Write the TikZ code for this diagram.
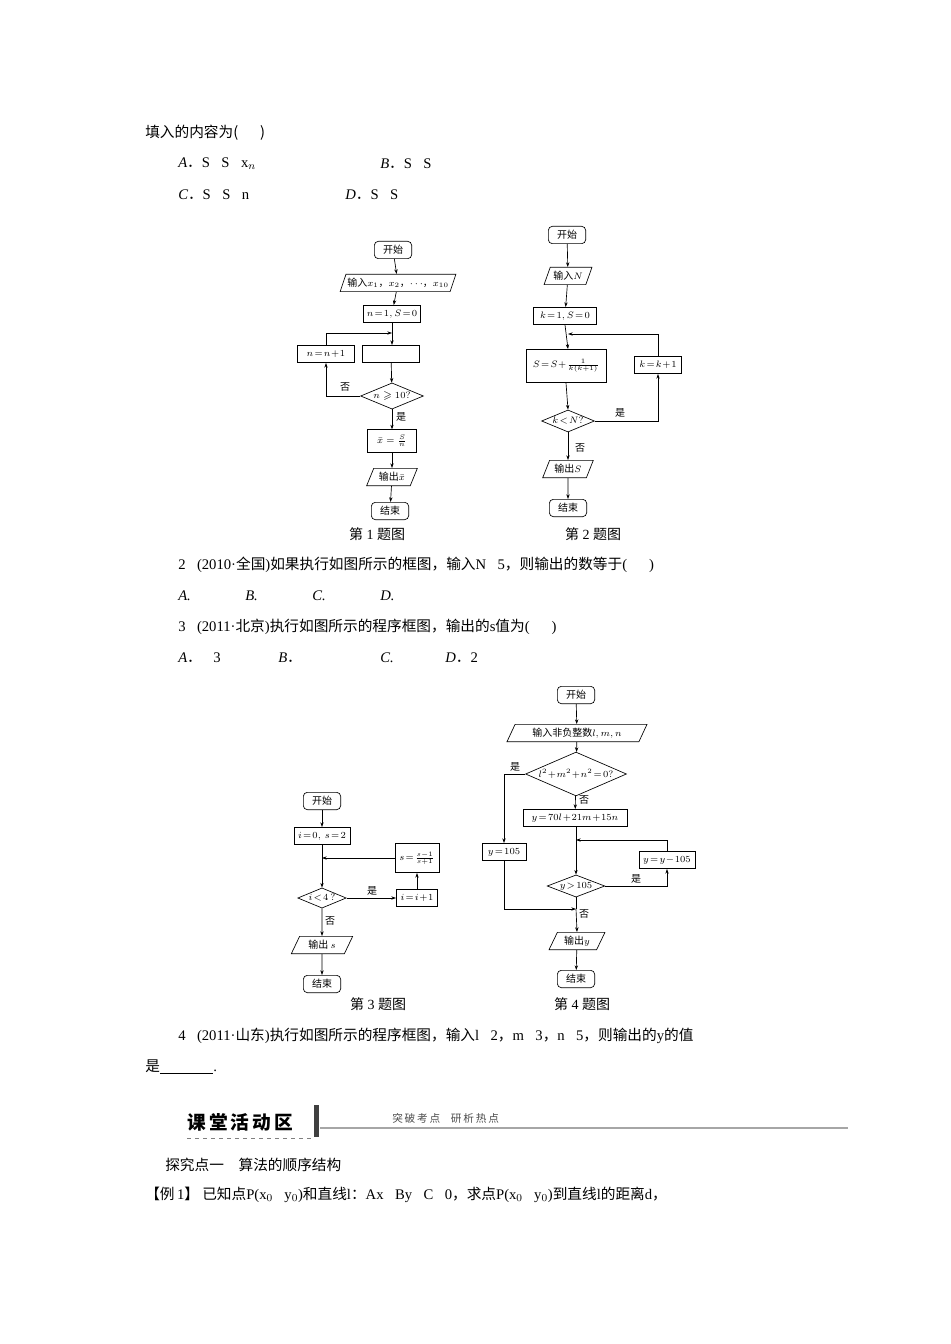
\documentclass[tikz,border=0pt]{standalone}
\usepackage{amssymb}
\usepackage{fontspec}
\setmainfont{Noto Sans CJK SC}
\newfontfamily\lt{Liberation Serif}
\usetikzlibrary{shapes.geometric,arrows.meta}
\tikzset{
 txt/.style={anchor=west,inner sep=0pt,font=\fontsize{11}{13}\selectfont},
 sm/.style={font=\fontsize{7.5}{9}\selectfont},
 term/.style={draw,rounded corners=3pt,minimum width=#1,minimum height=13pt,inner sep=1pt,sm,line width=0.5pt},
 term/.default=28pt,
 proc/.style={draw,minimum width=#1,minimum height=13pt,inner sep=1pt,sm,line width=0.5pt},
 io/.style={draw,trapezium,trapezium left angle=65,trapezium right angle=115,minimum width=#1,minimum height=13pt,inner sep=1pt,sm,line width=0.5pt,trapezium stretches=true},
 dec/.style={draw,diamond,aspect=2.4,inner sep=0.5pt,sm,line width=0.5pt},
 arr/.style={-{Stealth[length=3.5pt,width=2.5pt]},line width=0.5pt},
 ln/.style={line width=0.5pt},
 lab/.style={sm,inner sep=1pt},
 captxt/.style={font=\fontsize{10.5}{12}\selectfont}
}
\begin{document}
\begin{tikzpicture}[x=0.75pt,y=-0.75pt]
\useasboundingbox (0,0) rectangle (950,1344);
\fill[white] (0,0) rectangle (950,1344);
% top text
\node[txt] (t1) at (145,133) {填入的内容为({\lt\ \ \ \ \ \ })};
\node[txt] (t2) at (178,164) {{\lt\itshape A}．{\lt S＝S＋x$_n$}};
\node[txt] (t3) at (380,164) {{\lt\itshape B}．{\lt S＝S＋}};
\node[txt] (t4) at (178,195) {{\lt\itshape C}．{\lt S＝S＋n}};
\node[txt] (t5) at (345,195) {{\lt\itshape D}．{\lt S＝S＋}};
% chart 1
\node[term] (a1) at (393,250) {开始};
\node[io=80pt] (a2) at (398,283) {输入$x_1$，$x_2$，$\cdots$，$x_{10}$};
\node[proc=43pt] (a3) at (392,314) {$n\!=\!1,S\!=\!0$};
\node[proc=43pt] (a4) at (391,354) {};
\node[proc=43pt] (a5) at (326,354) {$n\!=\!n\!+\!1$};
\node[dec] (a6) at (392,396) {$n\geqslant10?$};
\node[proc=37pt,minimum height=17pt] (a7) at (392,441) {$\bar x=\frac{S}{n}$};
\node[io=38pt] (a8) at (392,477) {输出$\bar x$};
\node[term] (a9) at (390,511) {结束};
\coordinate (a10) at (392,333);
\draw[arr] (a1)--(a2); \draw[arr] (a2)--(a3); \draw[arr] (a3.south)--(a10|-a4.north);
\draw[arr] (a4)--(a6); \draw[arr] (a6)--(a7); \draw[arr] (a7)--(a8); \draw[arr] (a8)--(a9);
\draw[arr] (a6.west)-|(a5.south);
\draw[arr] (a5.north)|-(a10);
\node[lab] at (345,387) {否};
\node[lab] at (401,417) {是};
\node[captxt] at (377,534) {第{\lt\ 1 }题图};
% chart 2
\node[term] (b1) at (567,235) {开始};
\node[io=36pt] (b2) at (568,276) {输入$N$};
\node[proc=47pt] (b3) at (565,316) {$k\!=\!1,S\!=\!0$};
\node[proc=60pt,minimum height=25pt] (b4) at (566,366) {$S\!=\!S\!+\!\frac{1}{k(k+1)}$};
\node[proc=35pt] (b5) at (658,365) {$k\!=\!k\!+\!1$};
\node[dec] (b6) at (568,421) {$k\!<\!N?$};
\node[io=38pt] (b7) at (568,469) {输出$S$};
\node[term] (b8) at (568,508) {结束};
\coordinate (b9) at (568,334);
\draw[arr] (b1)--(b2); \draw[arr] (b2)--(b3); \draw[arr] (b3.south)--(b9|-b4.north);
\draw[arr] (b4.south)--(b6|-b6.north); \draw[arr] (b6)--(b7); \draw[arr] (b7)--(b8);
\draw[arr] (b6.east)-|(b5.south);
\draw[arr] (b5.north)|-(b9);
\node[lab] at (620,413) {是};
\node[lab] at (580,448) {否};
\node[captxt] at (593,534) {第{\lt\ 2 }题图};
% text 2-3
\node[txt] (t6) at (178,565) {{\lt 2．(2010·}全国{\lt)}如果执行如图所示的框图，输入{\lt N＝5}，则输出的数等于{\lt(\ \ \ \ \ \ )}};
\node[txt] (t7) at (178,596) {\lt\itshape A.};
\node[txt] (t8) at (245,596) {\lt\itshape B.};
\node[txt] (t9) at (312,596) {\lt\itshape C.};
\node[txt] (t10) at (380,596) {\lt\itshape D.};
\node[txt] (t11) at (178,627) {{\lt 3．(2011·}北京{\lt)}执行如图所示的程序框图，输出的{\lt s}值为{\lt(\ \ \ \ \ \ )}};
\node[txt] (t12) at (178,658) {{\lt\itshape A}．{\lt－3}};
\node[txt] (t13) at (278,658) {{\lt\itshape B}．{\lt－}};
\node[txt] (t14) at (380,658) {\lt\itshape C.};
\node[txt] (t15) at (445,658) {{\lt\itshape D}．{\lt 2}};
% chart 3
\node[term] (c1) at (322,801) {开始};
\node[proc=42pt] (c2) at (322,836) {$i\!=\!0,\ s\!=\!2$};
\node[proc=33pt,minimum height=22pt] (c3) at (417,858) {$s\!=\!\frac{s-1}{s+1}$};
\node[dec] (c4) at (322,898) {$i\!<\!4\,?$};
\node[proc=31pt] (c5) at (417,898) {$i\!=\!i\!+\!1$};
\node[io=46pt] (c6) at (322,945) {输出 $s$};
\node[term] (c7) at (322,984) {结束};
\coordinate (c8) at (322,858);
\draw[arr] (c1)--(c2); \draw[ln] (c2)--(c8); \draw[arr] (c8)--(c4);
\draw[arr] (c3.west)--(c8);
\draw[arr] (c4)--(c5); \draw[arr] (c5)--(c3);
\draw[arr] (c4)--(c6); \draw[arr] (c6)--(c7);
\node[lab] at (372,891) {是};
\node[lab] at (330,921) {否};
\node[captxt] at (378,1004) {第{\lt\ 3 }题图};
% chart 4
\node[term] (d1) at (576,695) {开始};
\node[io=105pt] (d2) at (577,733) {输入非负整数$l,m,n$};
\node[dec,aspect=2.3] (d3) at (576,774) {$l^2\!+\!m^2\!+\!n^2\!=\!0?$};
\node[proc=33pt] (d4) at (504,852) {$y\!=\!105$};
\node[proc=78pt] (d5) at (575,818) {$y\!=\!70l\!+\!21m\!+\!15n$};
\node[dec,aspect=2.6] (d6) at (576,886) {$y\!>\!105$};
\node[proc=42pt] (d7) at (667,860) {$y\!=\!y\!-\!105$};
\node[io=42pt] (d8) at (577,941) {输出$y$};
\node[term] (d9) at (576,979) {结束};
\coordinate (d10) at (576,840);
\coordinate (d11) at (576,909);
\draw[arr] (d1)--(d2); \draw[arr] (d2)--(d3); \draw[arr] (d3)--(d5);
\draw[ln] (d5.south-|d10)--(d10); \draw[arr] (d10)--(d6.north);
\draw[arr] (d3.west)-|(d4.north);
\draw[arr] (d6.east)-|(d7.south);
\draw[arr] (d7.north)|-(d10);
\draw[arr] (d4.south)|-(d11);
\draw[ln] (d6.south)--(d11); \draw[arr] (d11)--(d8.north);
\draw[arr] (d8)--(d9);
\node[lab] at (515,767) {是};
\node[lab] at (584,800) {否};
\node[lab] at (636,879) {是};
\node[lab] at (584,914) {否};
\node[captxt] at (582,1004) {第{\lt\ 4 }题图};
% text 4
\node[txt] (t16) at (178,1036) {{\lt 4．(2011·}山东{\lt)}执行如图所示的程序框图，输入{\lt l＝2}，{\lt m＝3}，{\lt n＝5}，则输出的{\lt y}的值};
\node[txt] (t17) at (145,1067) {是{\lt\underline{\hspace{40pt}}.}};
% banner
\node[anchor=west,inner sep=0pt,font=\fontsize{14}{16}\selectfont\bfseries] (h1) at (187,1122) {课\,堂\,活\,动\,区};
\fill[black!75] (314,1105) rectangle (319,1137);
\draw[gray,dashed,line width=0.6pt] (187,1138)--(312,1138);
\draw[gray!70,line width=1.2pt] (320,1128)--(848,1128);
\node[anchor=west,inner sep=0pt,font=\fontsize{8}{10}\selectfont,text=black!70] (h2) at (392,1118) {突\,破\,考\,点\quad 研\,析\,热\,点};
\node[txt] (t18) at (165,1165) {探究点一\quad 算法的顺序结构};
\node[txt] (t19) at (145,1195) {【例{\lt\,1}】\ 已知点{\lt P(x$_0$，y$_0$)}和直线{\lt l}：{\lt Ax＋By＋C＝0}，求点{\lt P(x$_0$，y$_0$)}到直线{\lt l}的距离{\lt d}，};
\end{tikzpicture}
\end{document}
